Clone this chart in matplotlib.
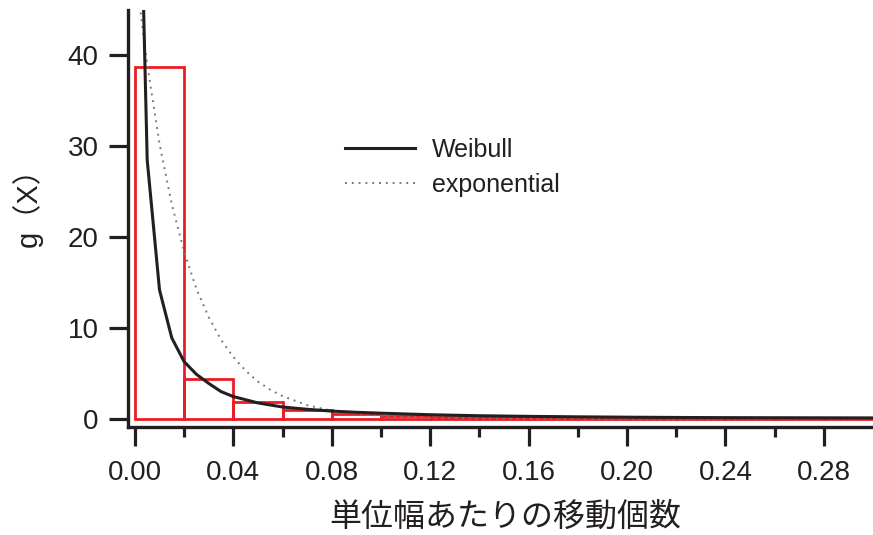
import matplotlib
matplotlib.use("Agg")
import matplotlib.pyplot as plt
import numpy as np

plt.rcParams['font.family'] = ['Liberation Sans', 'Noto Sans CJK JP', 'DejaVu Sans']

INK = '#231f20'
RED = '#ed1c24'

# histogram: bin edges (width 0.02) and densities
bin_edges = [0.00, 0.02, 0.04, 0.06, 0.08, 0.10, 0.12, 0.14, 0.16, 0.18,
             0.20, 0.22, 0.24, 0.26, 0.28, 0.30]
bin_density = [38.7, 4.4, 1.85, 1.0, 0.5, 0.3, 0.25, 0.2, 0.2, 0.15,
               0.15, 0.12, 0.1, 0.1, 0.08]

# fitted Weibull density
weibull_x = [0.0025, 0.005, 0.010, 0.015, 0.020, 0.025, 0.030, 0.035, 0.040,
             0.050, 0.060, 0.070, 0.080, 0.090, 0.100, 0.120, 0.140, 0.160,
             0.180, 0.200, 0.220, 0.240, 0.260, 0.280, 0.300]
weibull_y = [57.0, 28.5, 14.2, 8.9, 6.3, 4.9, 3.9, 3.0, 2.45,
             1.75, 1.3, 1.05, 0.85, 0.72, 0.62, 0.45, 0.34, 0.27,
             0.22, 0.18, 0.15, 0.13, 0.12, 0.11, 0.10]

# fitted exponential density
expo_x = [0.001, 0.005, 0.010, 0.015, 0.020, 0.025, 0.030, 0.035, 0.040,
          0.045, 0.050, 0.055, 0.060, 0.070, 0.080, 0.090, 0.100, 0.120,
          0.140, 0.160, 0.200, 0.300]
expo_y = [47.6, 39.0, 30.3, 23.6, 18.4, 14.3, 11.2, 8.7, 6.8,
          5.3, 4.1, 3.2, 2.5, 1.5, 0.9, 0.55, 0.34, 0.12,
          0.05, 0.02, 0.0, 0.0]

x_ticks = [0.00, 0.04, 0.08, 0.12, 0.16, 0.20, 0.24, 0.28]
x_tick_labels = ['0.00', '0.04', '0.08', '0.12', '0.16', '0.20', '0.24', '0.28']
y_ticks = [0, 10, 20, 30, 40]

fig = plt.figure(figsize=(8.73, 5.35), dpi=100)
ax = fig.add_axes([128 / 873, (535 - 427) / 535, (873 - 128) / 873, (427 - 10) / 535])

lefts = np.array(bin_edges[:-1])
widths = np.diff(bin_edges)
ax.bar(lefts, bin_density, width=widths, align='edge', fill=False,
       edgecolor=RED, linewidth=2.0, zorder=2)

ax.plot(expo_x, expo_y, color='#7a7a7a', linewidth=1.4,
        linestyle=(0, (1, 2.5)), label='exponential', zorder=3)
ax.plot(weibull_x, weibull_y, color=INK, linewidth=2.2, label='Weibull', zorder=4)

ax.set_xlim(-0.0028, 0.30)
ax.set_ylim(-0.9, 45)

for side in ('top', 'right'):
    ax.spines[side].set_visible(False)
for side in ('left', 'bottom'):
    ax.spines[side].set_color(INK)
    ax.spines[side].set_linewidth(2.4)

ax.set_xticks(x_ticks)
ax.set_xticklabels(x_tick_labels)
ax.set_xticks(np.arange(0.02, 0.30, 0.04), minor=True)
ax.set_yticks(y_ticks)

ax.tick_params(axis='both', which='major', direction='out', length=14,
               width=2.3, color=INK, labelcolor=INK, labelsize=20)
ax.tick_params(axis='x', which='major', pad=10)
ax.tick_params(axis='y', which='major', pad=7)
ax.tick_params(axis='x', which='minor', direction='out', length=7,
               width=2.3, color=INK)

fig.text(505 / 873, 1 - 517 / 535, '単位幅あたりの移動個数', fontsize=23,
         color=INK, ha='center', va='center',
         family=['Noto Sans CJK JP', 'DejaVu Sans'])
fig.text(27 / 873, 1 - 200 / 535, 'g（X）', fontsize=21, color=INK,
         rotation=90, ha='center', va='center',
         family=['Liberation Sans', 'Noto Sans CJK JP'])

handles, labels = ax.get_legend_handles_labels()
order = [1, 0]
leg = ax.legend([handles[i] for i in order], [labels[i] for i in order],
                loc='upper left', bbox_to_anchor=(345 / 873, 1 - 138 / 535),
                bbox_transform=fig.transFigure, frameon=False, fontsize=18,
                handlelength=2.8, handletextpad=0.68, labelspacing=0.44,
                borderpad=0, borderaxespad=0)
for t in leg.get_texts():
    t.set_color(INK)

fig.savefig('out.png', dpi=100)
